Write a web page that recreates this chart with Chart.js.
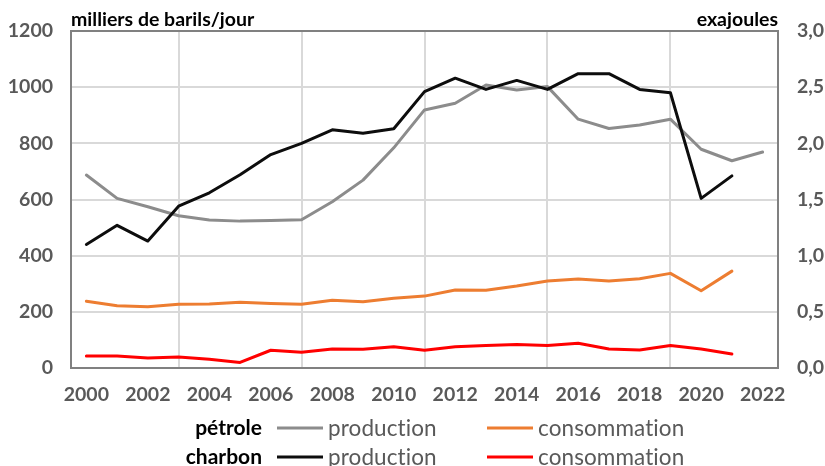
<!DOCTYPE html>
<html>
<head>
<meta charset="utf-8">
<script src="https://cdn.jsdelivr.net/npm/chart.js@4.4.1/dist/chart.umd.min.js"></script>
<style>
  html, body { margin: 0; padding: 0; background: #fff; }
  #wrap { width: 825px; height: 466px; position: relative; }
</style>
</head>
<body>
<div id="wrap"><canvas id="myChart" width="825" height="466"></canvas></div>
<script>
// données
var annees = ['2000','2001','2002','2003','2004','2005','2006','2007','2008','2009','2010',
              '2011','2012','2013','2014','2015','2016','2017','2018','2019','2020','2021','2022'];

// pétrole, milliers de barils/jour (axe gauche)
var petroleProduction = [687,604,574,542,527,523,525,528,592,669,784,919,943,1008,990,1002,886,853,865,886,779,738,769];
var petroleConsommation = [238,222,218,227,228,234,230,227,241,236,248,256,278,277,292,310,317,310,318,337,275,345];

// charbon, exajoules (axe droit)
var charbonProduction = [1.10,1.27,1.13,1.44,1.56,1.72,1.90,2.00,2.12,2.09,2.13,2.46,2.58,2.48,2.56,2.48,2.62,2.62,2.48,2.45,1.51,1.71];
var charbonConsommation = [0.107,0.107,0.089,0.098,0.077,0.05,0.158,0.14,0.17,0.166,0.19,0.157,0.19,0.20,0.21,0.20,0.22,0.17,0.16,0.20,0.17,0.125];

var titreGauche = 'milliers de barils/jour';
var titreDroite = 'exajoules';
var groupes = ['pétrole', 'charbon'];
var serieNoms = ['production', 'consommation'];

var FONT = 'Lato';
var GRIS_TXT = '#595959';

function ligne(label, data, color, axis, order) {
  return {
    label: label, data: data, yAxisID: axis,
    borderColor: color, backgroundColor: color,
    borderWidth: 3, pointRadius: 0, tension: 0,
    borderJoinStyle: 'round', borderCapStyle: 'round',
    order: order
  };
}

// titres des axes + cadre + légende à 2 lignes
var decor = {
  id: 'decor',
  beforeDatasetsDraw: function(chart) {
    var c = chart.ctx, a = chart.chartArea;
    c.save();
    c.strokeStyle = '#808080';
    c.lineWidth = 2;
    c.strokeRect(a.left, a.top, a.right - a.left, a.bottom - a.top);
    c.restore();
  },
  afterDraw: function(chart) {
    var c = chart.ctx, a = chart.chartArea;
    c.save();
    c.fillStyle = '#000';
    c.font = 'bold 19.5px ' + FONT;
    c.textBaseline = 'alphabetic';
    c.textAlign = 'left';
    c.fillText(titreGauche, a.left, 26);
    c.textAlign = 'right';
    c.fillText(titreDroite, a.right, 26);

    var ds = chart.data.datasets;
    var rows = [428, 457];
    for (var r = 0; r < 2; r++) {
      var y = rows[r];
      c.textBaseline = 'middle';
      c.textAlign = 'right';
      c.fillStyle = '#000';
      c.font = 'bold 21px ' + FONT;
      c.fillText(groupes[r], 262, y);
      var xs = [277, 487];
      for (var k = 0; k < 2; k++) {
        var d = ds[r * 2 + k];
        c.strokeStyle = d.borderColor;
        c.lineWidth = 3;
        c.beginPath();
        c.moveTo(xs[k], y);
        c.lineTo(xs[k] + 46, y);
        c.stroke();
        c.textAlign = 'left';
        c.fillStyle = GRIS_TXT;
        c.font = '22.5px ' + FONT;
        c.letterSpacing = '0.1px'; // pas de ligature "ti"
        c.fillText(serieNoms[k], xs[k] + 51, y + 1);
        c.letterSpacing = '0px';
      }
    }
    c.restore();
  }
};

var dates = {
  type: 'line',
  data: {
    labels: annees,
    datasets: [
      ligne('pétrole production', petroleProduction, '#8c8c8c', 'y', 2),
      ligne('pétrole consommation', petroleConsommation, '#ed7d31', 'y', 1),
      ligne('charbon production', charbonProduction, '#0d0d0d', 'y1', 0),
      ligne('charbon consommation', charbonConsommation, '#ff0000', 'y1', 1)
    ]
  },
  options: {
    responsive: false,
    animation: false,
    events: [],
    layout: { padding: { left: 0, right: 0, top: 31, bottom: 58 } },
    plugins: { legend: { display: false }, tooltip: { enabled: false } },
    scales: {
      x: {
        offset: true,
        grid: {
          offset: true, drawTicks: false, lineWidth: 2,
          color: function(ctx) { return ctx.index % 2 === 0 ? '#d9d9d9' : 'rgba(0,0,0,0)'; }
        },
        border: { display: false },
        ticks: {
          autoSkip: false, maxRotation: 0, padding: 15, color: GRIS_TXT,
          font: { family: FONT, size: 19.5, weight: 'bold' },
          callback: function(v, i) { return i % 2 === 0 ? annees[i] : null; }
        },
        afterFit: function(s) { s.height = 40; }
      },
      y: {
        position: 'left', min: 0, max: 1200,
        grid: { drawTicks: false, lineWidth: 2, color: '#d9d9d9' },
        border: { display: false },
        ticks: {
          stepSize: 200, padding: 18, color: GRIS_TXT,
          font: { family: FONT, size: 19.5, weight: 'bold' },
          callback: function(v) { return String(v); }
        },
        afterFit: function(s) { s.width = 71; }
      },
      y1: {
        position: 'right', min: 0, max: 3,
        grid: { display: false, drawTicks: false },
        border: { display: false },
        ticks: {
          stepSize: 0.5, padding: 19, color: GRIS_TXT,
          font: { family: FONT, size: 19.5, weight: 'bold' },
          callback: function(v) { return v.toFixed(1).replace('.', ','); }
        },
        afterFit: function(s) { s.width = 47; }
      }
    }
  },
  plugins: [decor]
};

const ctx = document.getElementById('myChart').getContext('2d');
const myChart = new Chart(ctx, dates);
</script>
</body>
</html>
